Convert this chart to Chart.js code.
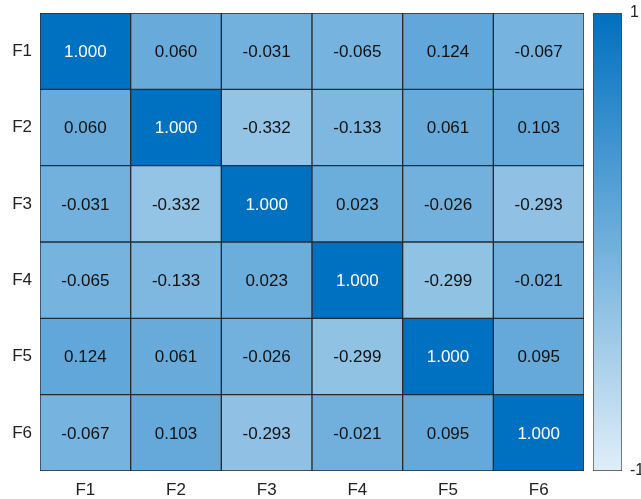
<!DOCTYPE html>
<html>
<head>
<meta charset="utf-8">
<script src="https://cdn.jsdelivr.net/npm/chart.js@4"></script>
<style>
  body { margin: 0; background: #fff; }
  #wrap { position: relative; width: 641px; height: 499px; }
  canvas { position: absolute; top: 0; }
  #heat { left: 0; }
  #bar { left: 590px; }
</style>
</head>
<body>
<div id="wrap">
  <canvas id="heat" width="590" height="499"></canvas>
  <canvas id="bar" width="51" height="499"></canvas>
</div>
<script>
const colLabels = ['F1', 'F2', 'F3', 'F4', 'F5', 'F6'];
const rowLabels = ['F1', 'F2', 'F3', 'F4', 'F5', 'F6'];
const corr = [
    [1.000, 0.060, -0.031, -0.065, 0.124, -0.067],
    [0.060, 1.000, -0.332, -0.133, 0.061, 0.103],
    [-0.031, -0.332, 1.000, 0.023, -0.026, -0.293],
    [-0.065, -0.133, 0.023, 1.000, -0.299, -0.021],
    [0.124, 0.061, -0.026, -0.299, 1.000, 0.095],
    [-0.067, 0.103, -0.293, -0.021, 0.095, 1.000],
];
const barTicks = [-1, 1];

const LOW = [222, 238, 248];
const HIGH = [0, 112, 192];
const FONT = "'Liberation Sans', Arial, sans-serif";

// map a value in [-1, 1] onto the blue ramp
function cellColor(v) {
    const t = (v + 1) / 2;
    const c = LOW.map((lo, k) => Math.round(lo + (HIGH[k] - lo) * t));
    return `rgb(${c[0]}, ${c[1]}, ${c[2]})`;
}

// no extra room for half-labels at the ends of the axes
function noEndPadding(scale) {
    scale.paddingTop = 0;
    scale.paddingBottom = 0;
}

const cellText = {
    id: 'cellText',
    afterDatasetsDraw(chart) {
        const ctx = chart.ctx;
        ctx.save();
        ctx.font = `17px ${FONT}`;
        ctx.textAlign = 'center';
        ctx.textBaseline = 'middle';
        chart.data.datasets.forEach((ds, i) => {
            chart.getDatasetMeta(i).data.forEach((el, j) => {
                const v = corr[i][j];
                const p = el.getCenterPoint();
                ctx.fillStyle = v > 0.6 ? '#ffffff' : '#111111';
                ctx.fillText(v.toFixed(3), p.x, p.y + 1);
            });
        });
        ctx.restore();
    }
};

new Chart(document.getElementById('heat'), {
    type: 'bar',
    data: {
        labels: colLabels,
        datasets: rowLabels.map((r, i) => ({
            label: r,
            data: colLabels.map(() => [i, i + 1]),
            backgroundColor: corr[i].map(cellColor),
            borderColor: '#2a2a2a',
            borderWidth: 1,
            borderSkipped: false,
            barPercentage: 1,
            categoryPercentage: 1,
            grouped: false,
        }))
    },
    options: {
        responsive: false,
        animation: false,
        devicePixelRatio: 1,
        layout: { padding: { top: 13, right: 6, left: 0, bottom: 0 } },
        plugins: { legend: { display: false }, tooltip: { enabled: false } },
        scales: {
            x: {
                grid: { display: false, drawTicks: false },
                border: { display: false },
                ticks: { color: '#222', font: { family: FONT, size: 17 }, padding: 9 },
                afterFit(scale) { scale.height = 28; }
            },
            y: {
                min: 0,
                max: 6,
                reverse: true,
                grid: { display: false, drawTicks: false },
                border: { display: false },
                afterBuildTicks(scale) {
                    scale.ticks = rowLabels.map((_, i) => ({ value: i + 0.5 }));
                },
                ticks: {
                    color: '#222',
                    font: { family: FONT, size: 17 },
                    padding: 8,
                    callback: (v) => rowLabels[Math.floor(v)]
                },
                afterFit(scale) {
                    scale.width = 40;
                    noEndPadding(scale);
                }
            }
        }
    },
    plugins: [cellText]
});

// colour bar
new Chart(document.getElementById('bar'), {
    type: 'bar',
    data: {
        labels: [''],
        datasets: [{
            data: [[barTicks[0], barTicks[1]]],
            backgroundColor(ctx) {
                const area = ctx.chart.chartArea;
                if (!area) return cellColor(0);
                const g = ctx.chart.ctx.createLinearGradient(0, area.bottom, 0, area.top);
                g.addColorStop(0, cellColor(-1));
                g.addColorStop(1, cellColor(1));
                return g;
            },
            borderColor: '#444',
            borderWidth: 1,
            borderSkipped: false,
            barPercentage: 1,
            categoryPercentage: 1,
        }]
    },
    options: {
        responsive: false,
        animation: false,
        devicePixelRatio: 1,
        layout: { padding: { top: 13, left: 3, right: 0, bottom: 28 } },
        plugins: { legend: { display: false }, tooltip: { enabled: false } },
        scales: {
            x: { display: false },
            y: {
                position: 'right',
                min: barTicks[0],
                max: barTicks[1],
                grid: { display: false, drawTicks: false },
                border: { display: false },
                afterBuildTicks(scale) {
                    scale.ticks = barTicks.map(v => ({ value: v }));
                },
                ticks: {
                    color: '#222',
                    font: { family: FONT, size: 16 },
                    padding: 8,
                    callback: (v) => String(v)
                },
                afterFit(scale) {
                    scale.width = 19;
                    noEndPadding(scale);
                }
            }
        }
    }
});
</script>
</body>
</html>
